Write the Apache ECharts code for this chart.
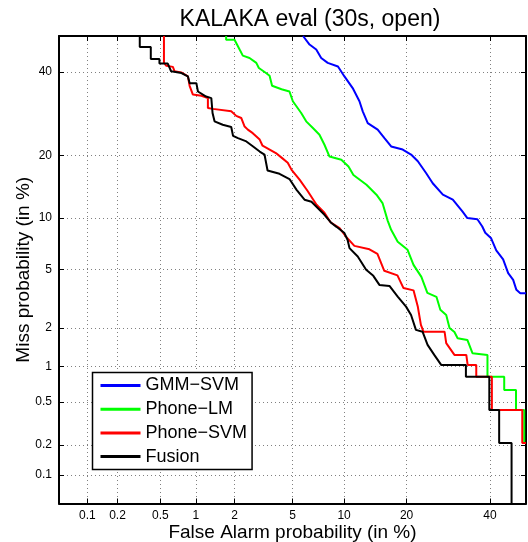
<!DOCTYPE html>
<html><head><meta charset="utf-8">
<script src="https://cdn.jsdelivr.net/npm/echarts@6/dist/echarts.min.js"></script>
<style>html,body{margin:0;padding:0;background:#fff}#c{width:528px;height:542px}</style>
</head><body><div id="c"></div>
<script>
// ---- Data (percent values) ----
const xTickLabels = [0.1, 0.2, 0.5, 1, 2, 5, 10, 20, 40];
const yTickLabels = [0.1, 0.2, 0.5, 1, 2, 5, 10, 20, 40];
const axisRangePct = [0.05, 50];
const seriesNames = ['GMM\u2212SVM', 'Phone\u2212LM', 'Phone\u2212SVM', 'Fusion'];
const seriesColors = ['#0000ff', '#00ff00', '#ff0000', '#000000'];

// [false alarm %, miss %]
const gmmSvm = [[5.81,50],[6.36,47.6],[6.97,46.2],[7.45,43.85],[8.12,42.5],[9.26,41.5],[10.04,38.8],[11.1,35.7],[12.03,32.3],[12.5,29.8],[13.24,27.0],[14.8,25.5],[15.93,23.6],[17.1,21.85],[19.25,21.2],[20.9,20.2],[22.3,18.9],[24.1,16.7],[25.55,15.0],[27.9,13.2],[30.3,12.46],[32.7,10.85],[33.97,10.0],[36.6,9.85],[37.9,9.0],[38.7,8.30],[40.3,7.72],[41.7,6.57],[43.6,5.80],[45.0,4.76],[46.4,4.30],[47.3,3.70],[48.4,3.51],[50,3.51]];
const phoneLm = [[1.73,50],[1.73,48.97],[2.00,48.97],[2.18,46.2],[2.30,44.5],[2.57,43.85],[2.87,42.5],[2.99,41.1],[3.33,39.8],[3.54,39.0],[3.68,36.3],[4.25,35.4],[4.78,34.8],[5.02,32.3],[5.66,29.4],[6.07,27.4],[6.66,25.86],[7.28,24.35],[7.78,22.2],[8.31,19.8],[9.66,19.2],[10.55,17.9],[11.2,16.4],[13.05,14.76],[14.6,13.2],[15.6,11.98],[16.5,9.66],[17.1,8.63],[18.3,7.37],[20.2,6.62],[21.4,5.36],[23.05,4.50],[24.35,3.53],[26.4,3.32],[27.3,2.70],[28.7,2.48],[29.5,1.99],[30.7,1.86],[31.5,1.67],[33.97,1.62],[35.3,1.28],[39.3,1.24],[39.3,0.825],[43.9,0.825],[43.9,0.636],[47.2,0.636],[47.2,0.424],[49.5,0.424],[49.5,0.209]];
const phoneSvm = [[0.537,50],[0.537,42.5],[0.564,41.7],[0.642,41.4],[0.664,40.2],[0.757,39.9],[0.861,38.8],[0.889,36.3],[0.946,34.0],[1.11,33.7],[1.25,33.1],[1.25,30.6],[1.37,30.4],[1.89,29.8],[2.06,28.7],[2.24,28.2],[2.37,26.2],[2.50,25.5],[2.71,24.7],[3.03,23.3],[3.17,22.0],[3.90,20.5],[4.25,19.6],[4.66,18.6],[4.93,17.3],[5.53,15.6],[6.18,13.8],[7.0,11.74],[7.78,10.67],[8.42,9.49],[9.45,8.81],[10.29,7.83],[11.33,6.98],[13.5,6.66],[14.76,6.26],[15.9,4.92],[18.25,4.60],[19.4,3.80],[21.4,3.67],[22.3,2.83],[22.95,2.10],[23.5,1.87],[28.3,1.87],[28.7,1.53],[30.7,1.24],[33.7,1.24],[34.05,1.03],[36.3,1.03],[36.3,0.825],[40.5,0.825],[40.5,0.424],[48.95,0.424],[48.95,0.209],[50,0.209]];
const fusion = [[0.325,50],[0.325,46.9],[0.41,46.9],[0.41,43.6],[0.49,43.6],[0.49,42.3],[0.58,42.3],[0.62,40.2],[0.76,39.7],[0.86,38.8],[0.89,37.0],[1.01,37.0],[1.04,34.8],[1.21,33.5],[1.33,33.1],[1.36,29.4],[1.41,27.4],[1.63,26.6],[1.89,26.1],[1.95,24.1],[2.12,23.6],[2.44,22.9],[2.71,21.9],[3.03,20.8],[3.27,20.2],[3.43,17.2],[4.12,16.6],[4.78,15.7],[5.30,13.94],[5.93,12.46],[6.53,12.17],[7.78,10.41],[8.52,9.40],[9.09,8.96],[10.04,8.27],[10.43,7.57],[10.68,6.77],[11.79,6.03],[13.0,4.99],[14.1,4.57],[15.08,3.99],[16.8,3.93],[18.3,3.33],[19.9,2.84],[20.9,2.48],[21.9,1.93],[23.3,1.87],[24.4,1.485],[25.9,1.24],[27.5,1.03],[33.6,1.03],[33.6,0.825],[39.8,0.825],[39.8,0.424],[42.5,0.424],[42.5,0.209],[45.95,0.209],[45.95,0.05]];
const seriesData = [gmmSvm, phoneLm, phoneSvm, fusion];

// ---- Normal deviate scale ----
function probit(p){
  const a=[-3.969683028665376e+01,2.209460984245205e+02,-2.759285104469687e+02,1.383577518672690e+02,-3.066479806614716e+01,2.506628277459239e+00];
  const b=[-5.447609879822406e+01,1.615858368580409e+02,-1.556989798598866e+02,6.680131188771972e+01,-1.328068155288572e+01];
  const c=[-7.784894002430293e-03,-3.223964580411365e-01,-2.400758277161838e+00,-2.549732539343734e+00,4.374664141464968e+00,2.938163982698783e+00];
  const d=[7.784695709041462e-03,3.224671290700398e-01,2.445134137142996e+00,3.754408661907416e+00];
  const pl=0.02425, ph=1-pl; let q,r;
  if(p<pl){q=Math.sqrt(-2*Math.log(p));return (((((c[0]*q+c[1])*q+c[2])*q+c[3])*q+c[4])*q+c[5])/((((d[0]*q+d[1])*q+d[2])*q+d[3])*q+1);}
  if(p<=ph){q=p-0.5;r=q*q;return (((((a[0]*r+a[1])*r+a[2])*r+a[3])*r+a[4])*r+a[5])*q/(((((b[0]*r+b[1])*r+b[2])*r+b[3])*r+b[4])*r+1);}
  q=Math.sqrt(-2*Math.log(1-p));return -(((((c[0]*q+c[1])*q+c[2])*q+c[3])*q+c[4])*q+c[5])/((((d[0]*q+d[1])*q+d[2])*q+d[3])*q+1);
}
const P = v => probit(v / 100);
const axMin = P(axisRangePct[0]), axMax = P(axisRangePct[1]);
const xTickVals = xTickLabels.map(P), yTickVals = yTickLabels.map(P);
function fmt(labels, vals){
  return function(v){
    for (let i=0;i<vals.length;i++) if (Math.abs(vals[i]-v) < 1e-6) return String(labels[i]);
    return '';
  };
}
const FONT = 'Liberation Sans, Arial, Helvetica, sans-serif';
const axisLine = {show:true, onZero:false, lineStyle:{color:'#000', width:2}};
const gridLine = {show:true, lineStyle:{color:'#808080', type:[1,3], width:1}};
function tick(vals){ return {show:true, inside:true, length:5, customValues: vals, lineStyle:{color:'#000', width:1}}; }

const chart = echarts.init(document.getElementById('c'), null, {renderer:'canvas'});
chart.setOption({
  animation:false,
  backgroundColor:'#fff',
  title:{text:'KALAKA eval (30s, open)', left:305, top:3, textAlign:'center',
    textStyle:{fontFamily:FONT, fontSize:23, fontWeight:'normal', color:'#000'}},
  grid:{left:59, top:36, right:2, bottom:38.5, containLabel:false, outerBoundsMode:'none'},
  legend:{
    orient:'vertical', left:92.5, top:372.5,
    data: seriesNames, icon:'rect', itemWidth:40, itemHeight:3, itemGap:5.7,
    padding:[4,5,4,8], borderColor:'#000', borderWidth:1.5, backgroundColor:'#fff',
    textStyle:{fontFamily:FONT, fontSize:18, color:'#000', lineHeight:18}
  },
  xAxis:[
    {type:'value', min:axMin, max:axMax, position:'bottom',
     axisLine, axisTick:tick(xTickVals),
     axisLabel:{customValues:xTickVals, formatter:fmt(xTickLabels,xTickVals), color:'#000', fontSize:12, fontFamily:FONT, margin:6},
     splitLine:gridLine,
     name:'False Alarm probability (in %)', nameLocation:'middle', nameGap:20, nameMoveOverlap:false,
     nameTextStyle:{fontFamily:FONT, fontSize:19, color:'#000'}},
    {type:'value', min:axMin, max:axMax, position:'top',
     axisLine, axisTick:tick(xTickVals), axisLabel:{show:false}, splitLine:{show:false}}
  ],
  yAxis:[
    {type:'value', min:axMin, max:axMax, position:'left',
     axisLine, axisTick:tick(yTickVals),
     axisLabel:{customValues:yTickVals, formatter:fmt(yTickLabels,yTickVals), color:'#000', fontSize:12, fontFamily:FONT, margin:7},
     splitLine:gridLine,
     name:'Miss probability (in %)', nameLocation:'middle', nameGap:26, nameMoveOverlap:false,
     nameTextStyle:{fontFamily:FONT, fontSize:19, color:'#000'}},
    {type:'value', min:axMin, max:axMax, position:'right',
     axisLine, axisTick:tick(yTickVals), axisLabel:{show:false}, splitLine:{show:false}}
  ],
  series: seriesData.map((arr, i) => ({
    name: seriesNames[i], type:'line', showSymbol:false, symbol:'none', clip:true,
    color: seriesColors[i],
    lineStyle:{color: seriesColors[i], width:2},
    data: arr.map(p => [P(p[0]), P(p[1])])
  }))
});
</script></body></html>
